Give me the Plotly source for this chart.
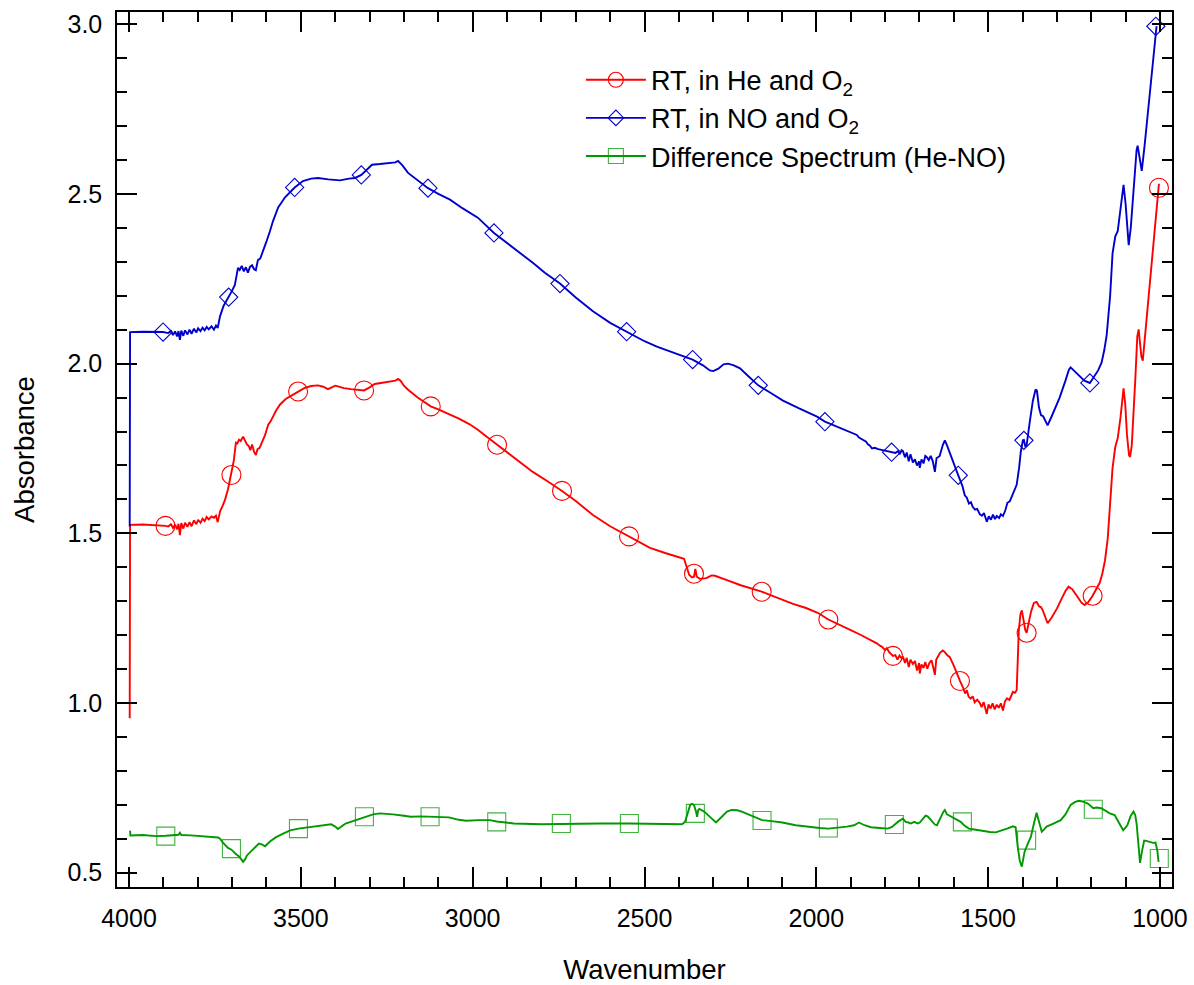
import plotly.graph_objects as go

# ---------------- data ----------------
red_wn = [3998, 3997, 3960, 3924, 3905, 3894, 3886, 3878, 3872, 3866, 3860, 3856, 3852, 3848, 3842, 3837, 3830, 3824, 3818, 3811,
          3804, 3799, 3792, 3786, 3780, 3774, 3768, 3760, 3753, 3747, 3742, 3735, 3728, 3721, 3712, 3703, 3695, 3689, 3685, 3680,
          3675, 3668, 3662, 3657, 3652, 3647, 3642, 3636, 3631, 3626, 3620, 3616, 3610, 3604, 3595, 3588, 3581, 3572, 3561, 3545,
          3525, 3508, 3490, 3470, 3450, 3435, 3421, 3410, 3400, 3392, 3375, 3354, 3335, 3316, 3300, 3285, 3267, 3250, 3235, 3225,
          3217, 3210, 3200, 3188, 3160, 3140, 3122, 3100, 3080, 3063, 3040, 3010, 2985, 2960, 2929, 2900, 2871, 2850, 2825, 2780,
          2740, 2700, 2650, 2600, 2545, 2510, 2484, 2440, 2400, 2385, 2377, 2370, 2362, 2356, 2352, 2348, 2339, 2320, 2305, 2295,
          2260, 2220, 2159, 2110, 2068, 2030, 1996, 1965, 1930, 1900, 1873, 1850, 1824, 1815, 1808, 1800, 1795, 1788, 1777, 1770,
          1764, 1758, 1752, 1748, 1742, 1737, 1731, 1726, 1719, 1713, 1707, 1701, 1699, 1694, 1688, 1683, 1677, 1671, 1665, 1660,
          1655, 1651, 1645, 1640, 1632, 1626, 1619, 1612, 1600, 1591, 1582, 1574, 1567, 1562, 1557, 1551, 1545, 1539, 1532, 1524,
          1519, 1513, 1508, 1504, 1499, 1493, 1487, 1481, 1475, 1469, 1463, 1457, 1451, 1445, 1438, 1432, 1428, 1422, 1417, 1413,
          1411, 1406, 1402, 1397, 1392, 1388, 1382, 1375, 1367, 1359, 1352, 1346, 1341, 1334, 1327, 1315, 1300, 1285, 1275, 1266,
          1255, 1240, 1228, 1219, 1208, 1196, 1185, 1175, 1168, 1160, 1152, 1145, 1138, 1130, 1123, 1115, 1110, 1106, 1101, 1096,
          1090, 1087, 1082, 1077, 1072, 1066, 1062, 1058, 1054, 1050, 1040, 1030, 1020, 1010, 1003]
red_abs = [0.955, 1.525, 1.526, 1.525, 1.524, 1.522, 1.520, 1.527, 1.516, 1.526, 1.512, 1.528, 1.495, 1.530, 1.514, 1.531, 1.519, 1.533, 1.521, 1.538,
           1.527, 1.540, 1.531, 1.543, 1.536, 1.548, 1.541, 1.550, 1.546, 1.552, 1.533, 1.565, 1.580, 1.598, 1.630, 1.672, 1.715, 1.767, 1.765, 1.776,
           1.772, 1.785, 1.770, 1.762, 1.758, 1.745, 1.762, 1.740, 1.731, 1.748, 1.752, 1.761, 1.775, 1.790, 1.820, 1.830, 1.844, 1.862, 1.879, 1.895,
           1.907, 1.918, 1.928, 1.934, 1.936, 1.932, 1.925, 1.930, 1.935, 1.933, 1.928, 1.925, 1.922, 1.921, 1.930, 1.940, 1.943, 1.945, 1.948, 1.950,
           1.955, 1.950, 1.935, 1.923, 1.900, 1.885, 1.874, 1.865, 1.856, 1.849, 1.838, 1.822, 1.805, 1.785, 1.761, 1.740, 1.718, 1.700, 1.681, 1.652,
           1.625, 1.595, 1.554, 1.521, 1.491, 1.472, 1.457, 1.442, 1.430, 1.425, 1.400, 1.378, 1.370, 1.372, 1.395, 1.372, 1.366, 1.368, 1.376, 1.375,
           1.362, 1.347, 1.328, 1.308, 1.292, 1.280, 1.266, 1.246, 1.228, 1.215, 1.202, 1.190, 1.176, 1.169, 1.165, 1.156, 1.162, 1.150, 1.139, 1.141,
           1.128, 1.140, 1.132, 1.137, 1.118, 1.133, 1.106, 1.128, 1.115, 1.124, 1.096, 1.118, 1.087, 1.114, 1.103, 1.121, 1.101, 1.118, 1.126, 1.106,
           1.083, 1.128, 1.140, 1.148, 1.155, 1.150, 1.141, 1.136, 1.110, 1.086, 1.065, 1.048, 1.028, 1.038, 1.019, 1.013, 1.020, 1.002, 1.010, 1.000,
           0.988, 1.003, 0.984, 0.968, 0.996, 0.984, 0.999, 0.981, 0.995, 0.986, 0.999, 0.978, 1.005, 1.014, 1.009, 1.025, 1.033, 1.030, 1.038, 1.150,
           1.212, 1.262, 1.273, 1.245, 1.215, 1.207, 1.240, 1.270, 1.295, 1.298, 1.285, 1.282, 1.273, 1.252, 1.235, 1.252, 1.278, 1.310, 1.330, 1.343,
           1.335, 1.313, 1.295, 1.289, 1.298, 1.316, 1.335, 1.355, 1.380, 1.420, 1.485, 1.590, 1.693, 1.755, 1.780, 1.840, 1.900, 1.927, 1.880, 1.790,
           1.730, 1.725, 1.760, 1.840, 1.950, 2.080, 2.101, 2.060, 2.020, 2.009, 2.120, 2.230, 2.340, 2.450, 2.530]

blue_wn = [3998, 3997, 3960, 3924, 3901, 3886, 3878, 3872, 3866, 3860, 3856, 3852, 3848, 3842, 3837, 3830, 3824, 3818, 3811, 3804,
           3799, 3792, 3786, 3780, 3774, 3768, 3760, 3753, 3747, 3742, 3735, 3725, 3710, 3700, 3692, 3686, 3683, 3678, 3672, 3666,
           3660, 3654, 3648, 3642, 3636, 3631, 3625, 3618, 3610, 3600, 3590, 3581, 3566, 3546, 3518, 3494, 3470, 3450, 3420, 3400,
           3386, 3360, 3342, 3324, 3305, 3293, 3270, 3241, 3225, 3217, 3205, 3188, 3160, 3130, 3100, 3066, 3030, 2985, 2938, 2905,
           2871, 2825, 2790, 2746, 2700, 2650, 2600, 2552, 2500, 2464, 2420, 2377, 2360, 2330, 2310, 2300, 2285, 2270, 2257, 2240,
           2222, 2200, 2169, 2130, 2097, 2050, 1998, 1975, 1930, 1900, 1882, 1876, 1865, 1855, 1850, 1844, 1838, 1830, 1820, 1810,
           1800, 1790, 1781, 1770, 1762, 1757, 1752, 1748, 1742, 1737, 1731, 1726, 1719, 1713, 1707, 1701, 1699, 1694, 1688, 1683,
           1679, 1673, 1667, 1661, 1655, 1650, 1645, 1641, 1632, 1626, 1620, 1612, 1600, 1587, 1575, 1568, 1562, 1556, 1550, 1545,
           1538, 1532, 1524, 1518, 1512, 1504, 1498, 1492, 1486, 1480, 1475, 1468, 1463, 1457, 1450, 1444, 1437, 1430, 1422, 1417,
           1410, 1405, 1399, 1396, 1392, 1388, 1380, 1370, 1362, 1358, 1352, 1346, 1340, 1333, 1327, 1315, 1300, 1292, 1275, 1265,
           1260, 1245, 1230, 1220, 1204, 1190, 1180, 1170, 1162, 1155, 1145, 1138, 1130, 1123, 1115, 1106, 1100, 1095, 1091, 1085,
           1075, 1068, 1065, 1060, 1053, 1045, 1039, 1030, 1024, 1017, 1010]
blue_abs = [1.520, 2.093, 2.094, 2.093, 2.093, 2.090, 2.096, 2.084, 2.095, 2.080, 2.096, 2.070, 2.097, 2.082, 2.098, 2.086, 2.100, 2.088, 2.103, 2.092,
            2.104, 2.096, 2.106, 2.098, 2.108, 2.101, 2.110, 2.100, 2.112, 2.105, 2.140, 2.170, 2.196, 2.215, 2.232, 2.262, 2.282, 2.276, 2.288, 2.272,
            2.284, 2.268, 2.285, 2.290, 2.278, 2.275, 2.305, 2.310, 2.335, 2.360, 2.390, 2.420, 2.460, 2.490, 2.519, 2.538, 2.545, 2.547, 2.543, 2.540,
            2.540, 2.545, 2.547, 2.556, 2.575, 2.586, 2.588, 2.590, 2.593, 2.597, 2.585, 2.562, 2.540, 2.517, 2.500, 2.483, 2.458, 2.430, 2.385, 2.360,
            2.333, 2.297, 2.268, 2.236, 2.195, 2.154, 2.120, 2.094, 2.066, 2.050, 2.033, 2.017, 2.012, 1.995, 1.980, 1.978, 1.985, 1.998, 2.000, 1.995,
            1.986, 1.965, 1.936, 1.912, 1.891, 1.868, 1.844, 1.829, 1.810, 1.798, 1.790, 1.782, 1.776, 1.770, 1.762, 1.758, 1.750, 1.752, 1.748, 1.746,
            1.742, 1.740, 1.739, 1.737, 1.742, 1.733, 1.745, 1.742, 1.724, 1.738, 1.712, 1.733, 1.709, 1.718, 1.700, 1.712, 1.693, 1.718, 1.706, 1.728,
            1.725, 1.716, 1.728, 1.712, 1.681, 1.722, 1.725, 1.728, 1.760, 1.774, 1.760, 1.737, 1.705, 1.671, 1.640, 1.612, 1.605, 1.588, 1.592, 1.578,
            1.570, 1.572, 1.556, 1.552, 1.560, 1.534, 1.550, 1.540, 1.555, 1.542, 1.551, 1.545, 1.556, 1.551, 1.568, 1.590, 1.594, 1.612, 1.630, 1.643,
            1.692, 1.740, 1.774, 1.775, 1.757, 1.760, 1.820, 1.890, 1.924, 1.920, 1.870, 1.848, 1.845, 1.830, 1.818, 1.845, 1.880, 1.900, 1.950, 1.982,
            1.989, 1.975, 1.960, 1.950, 1.943, 1.965, 1.980, 2.003, 2.040, 2.085, 2.200, 2.325, 2.375, 2.390, 2.460, 2.527, 2.470, 2.390, 2.349, 2.400,
            2.540, 2.630, 2.642, 2.610, 2.568, 2.640, 2.700, 2.790, 2.845, 2.920, 2.994]

green_wn = [3997, 3996, 3960, 3921, 3893, 3870, 3856, 3852, 3848, 3820, 3790, 3760, 3741, 3735, 3728, 3712, 3702, 3690, 3680, 3672,
            3668, 3662, 3657, 3640, 3622, 3612, 3604, 3590, 3572, 3550, 3531, 3507, 3480, 3450, 3425, 3412, 3400, 3392, 3370, 3340,
            3315, 3290, 3270, 3250, 3232, 3200, 3180, 3150, 3124, 3095, 3069, 3040, 3020, 2980, 2950, 2930, 2900, 2880, 2800, 2742,
            2680, 2630, 2544, 2460, 2391, 2382, 2375, 2367, 2362, 2356, 2350, 2347, 2344, 2340, 2326, 2310, 2292, 2275, 2260, 2246,
            2230, 2217, 2190, 2158, 2130, 2099, 2060, 2019, 1990, 1965, 1940, 1911, 1890, 1876, 1860, 1841, 1815, 1792, 1780, 1773,
            1760, 1748, 1740, 1732, 1725, 1715, 1705, 1699, 1690, 1682, 1676, 1665, 1655, 1649, 1640, 1630, 1626, 1620, 1612, 1606,
            1598, 1590, 1580, 1570, 1556, 1545, 1527, 1510, 1495, 1478, 1460, 1445, 1428, 1420, 1414, 1408, 1402, 1398, 1394, 1382,
            1376, 1368, 1359, 1352, 1344, 1337, 1330, 1310, 1289, 1275, 1260, 1248, 1237, 1225, 1210, 1194, 1185, 1171, 1160, 1146,
            1132, 1120, 1107, 1095, 1085, 1077, 1072, 1068, 1063, 1058, 1052, 1046, 1040, 1033, 1020, 1013, 1008, 1004]
green_abs = [0.624, 0.610, 0.611, 0.608, 0.609, 0.611, 0.612, 0.618, 0.611, 0.610, 0.607, 0.605, 0.604, 0.600, 0.590, 0.573, 0.568, 0.556, 0.548, 0.538,
             0.532, 0.540, 0.551, 0.568, 0.586, 0.583, 0.578, 0.592, 0.605, 0.616, 0.625, 0.630, 0.634, 0.637, 0.641, 0.643, 0.636, 0.629, 0.645, 0.655,
             0.665, 0.672, 0.675, 0.674, 0.672, 0.668, 0.665, 0.666, 0.665, 0.664, 0.663, 0.656, 0.653, 0.655, 0.655, 0.651, 0.647, 0.645, 0.643, 0.644,
             0.645, 0.645, 0.645, 0.645, 0.643, 0.650, 0.675, 0.700, 0.703, 0.700, 0.680, 0.665, 0.684, 0.688, 0.680, 0.664, 0.648, 0.665, 0.680, 0.685,
             0.684, 0.680, 0.668, 0.655, 0.652, 0.648, 0.640, 0.634, 0.632, 0.630, 0.632, 0.636, 0.640, 0.648, 0.640, 0.634, 0.632, 0.630, 0.635, 0.642,
             0.652, 0.659, 0.650, 0.648, 0.645, 0.650, 0.645, 0.648, 0.660, 0.668, 0.666, 0.652, 0.642, 0.640, 0.660, 0.680, 0.685, 0.672, 0.668, 0.665,
             0.660, 0.656, 0.650, 0.640, 0.630, 0.628, 0.625, 0.622, 0.620, 0.619, 0.624, 0.630, 0.637, 0.634, 0.577, 0.535, 0.518, 0.540, 0.562, 0.592,
             0.605, 0.640, 0.677, 0.650, 0.621, 0.628, 0.636, 0.645, 0.655, 0.672, 0.700, 0.708, 0.712, 0.710, 0.704, 0.690, 0.692, 0.690, 0.683, 0.675,
             0.670, 0.650, 0.625, 0.640, 0.668, 0.680, 0.670, 0.645, 0.590, 0.529, 0.565, 0.595, 0.594, 0.592, 0.588, 0.589, 0.567, 0.532]

# marker positions (symbols drawn on top of each spectrum)
red_mk_wn = [3894, 3702, 3508, 3316, 3122, 2929, 2740, 2545, 2356, 2159, 1965, 1777, 1582, 1388, 1196, 1003]
red_mk_abs = [1.522, 1.672, 1.918, 1.921, 1.874, 1.761, 1.625, 1.491, 1.381, 1.328, 1.246, 1.139, 1.065, 1.207, 1.316, 2.518]
blue_mk_wn = [3901, 3710, 3518, 3324, 3130, 2938, 2746, 2552, 2360, 2169, 1975, 1781, 1587, 1396, 1204, 1012]
blue_mk_abs = [2.093, 2.196, 2.519, 2.556, 2.517, 2.385, 2.236, 2.094, 2.012, 1.936, 1.829, 1.739, 1.671, 1.774, 1.943, 2.994]
green_mk_wn = [3893, 3702, 3507, 3315, 3124, 2930, 2742, 2544, 2352, 2158, 1965, 1773, 1575, 1388, 1194, 1002]
green_mk_abs = [0.608, 0.571, 0.630, 0.665, 0.665, 0.650, 0.645, 0.645, 0.675, 0.654, 0.632, 0.642, 0.650, 0.596, 0.687, 0.542]

names = ["RT, in He and O<sub>2</sub>", "RT, in NO and O<sub>2</sub>", "Difference Spectrum (He-NO)"]
colors = ["#ff0000", "#0000cc", "#009900"]
symbols = ["circle-open", "diamond-open", "square-open"]
sizes = [19, 14, 18]
legend_sizes = [15, 12, 15]

FONT = "Liberation Sans, Arial, Helvetica, sans-serif"

fig = go.Figure()
series = [(red_wn, red_abs, red_mk_wn, red_mk_abs),
          (blue_wn, blue_abs, blue_mk_wn, blue_mk_abs),
          (green_wn, green_abs, green_mk_wn, green_mk_abs)]

for i, (wx, wy, mx, my) in enumerate(series):
    fig.add_trace(go.Scatter(x=wx, y=wy, mode="lines", line=dict(color=colors[i], width=1.9),
                             showlegend=False, hoverinfo="skip"))
for i, (wx, wy, mx, my) in enumerate(series):
    fig.add_trace(go.Scatter(x=mx, y=my, mode="markers",
                             marker=dict(symbol=symbols[i], size=sizes[i], color=colors[i],
                                         line=dict(width=1.1, color=colors[i]),
                                         opacity=0.75 if i == 2 else 1.0),
                             showlegend=False))
for i in range(3):
    fig.add_trace(go.Scatter(x=[None], y=[None], mode="lines+markers", name=names[i],
                             line=dict(color=colors[i], width=1.9),
                             marker=dict(symbol=symbols[i], size=legend_sizes[i], color=colors[i],
                                         line=dict(width=1.1, color=colors[i]),
                                         opacity=0.75 if i == 2 else 1.0)))

axis_common = dict(showline=True, linecolor="black", linewidth=1.5, mirror="ticks",
                   ticks="inside", ticklen=20, tickwidth=1.5, tickcolor="black",
                   showgrid=False, zeroline=False, automargin=False,
                   tickfont=dict(family=FONT, size=25, color="black"))

fig.update_layout(
    template="none",
    width=1194, height=985,
    margin=dict(l=117, r=22, t=12, b=98),
    paper_bgcolor="white", plot_bgcolor="white",
    font=dict(family=FONT, color="black"),
    xaxis=dict(range=[4035, 965], tick0=1000, dtick=500,
               minor=dict(ticks="inside", ticklen=10, tickwidth=1.5, tickcolor="black", dtick=100, tick0=1000),
               ticklabelstandoff=8,
               title=dict(text="Wavenumber", font=dict(family=FONT, size=27.5), standoff=30),
               **axis_common),
    yaxis=dict(range=[0.458, 3.036], tick0=0.5, dtick=0.5, tickformat=".1f",
               minor=dict(ticks="inside", ticklen=10, tickwidth=1.5, tickcolor="black", dtick=0.1, tick0=0.5),
               ticklabelstandoff=8,
               title=dict(text="Absorbance", font=dict(family=FONT, size=27.5), standoff=25),
               **axis_common),
    legend=dict(x=0.4397, y=0.950, xanchor="left", yanchor="top",
                bgcolor="rgba(0,0,0,0)", borderwidth=0,
                font=dict(family=FONT, size=27, color="black"),
                itemwidth=60, tracegroupgap=0),
    showlegend=True,
)

fig.write_html("out.html")
